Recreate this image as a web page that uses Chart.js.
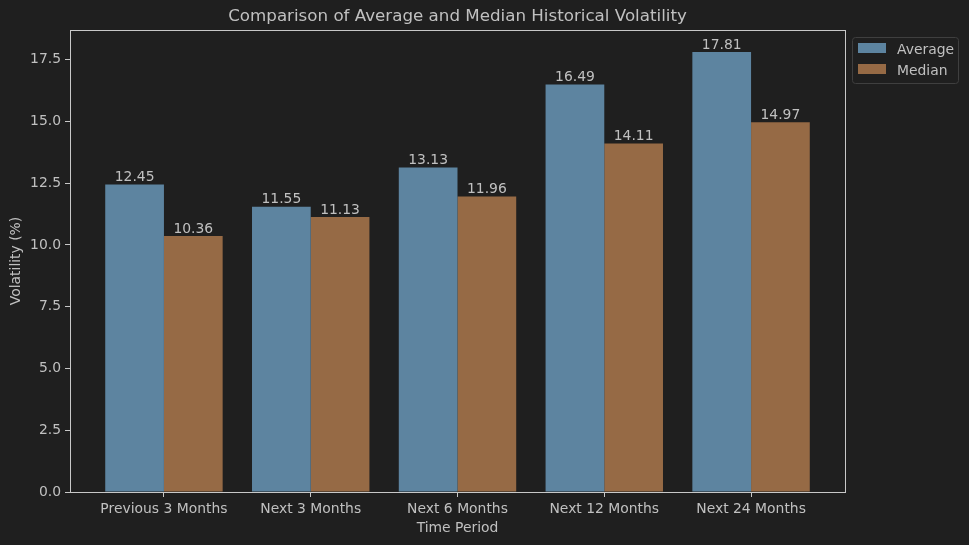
<!DOCTYPE html>
<html>
<head>
<meta charset="utf-8">
<script src="https://cdn.jsdelivr.net/npm/chart.js@4.4.1/dist/chart.umd.min.js"></script>
<style>
body { margin: 0; background: #1f1f1f; }
#wrap { width: 969px; height: 545px; }
</style>
</head>
<body>
<div id="wrap"><canvas id="volChart" width="969" height="545"></canvas></div>
<script>
// values
const periods = ['Previous 3 Months', 'Next 3 Months', 'Next 6 Months', 'Next 12 Months', 'Next 24 Months'];
const averageVol = [12.45, 11.55, 13.13, 16.49, 17.81];
const medianVol = [10.36, 11.13, 11.96, 14.11, 14.97];
const yTicks = [0, 2.5, 5, 7.5, 10, 12.5, 15, 17.5];

const txt = '#c0c0c0';
const spine = '#c8c8c8';
const font = 'DejaVu Sans';

function pts(vals){
	return vals.map((v, i) => ({x: i, y: v}));
}

// title, axis frame, value labels and legend drawn by hand (matplotlib look)
const extras = {
	id: 'extras',
	afterDatasetsDraw(chart){
		let ctx = chart.ctx;
		let a = chart.chartArea;
		ctx.save();
		ctx.strokeStyle = spine;
		ctx.lineWidth = 1;
		ctx.strokeRect(Math.round(a.left) + 0.5, Math.round(a.top) + 0.5, Math.round(a.right - a.left), Math.round(a.bottom - a.top));

		// value labels above bars
		ctx.fillStyle = txt;
		ctx.font = '13.9px "' + font + '"';
		ctx.textAlign = 'center';
		ctx.textBaseline = 'bottom';
		chart.data.datasets.forEach((ds, di) => {
			chart.getDatasetMeta(di).data.forEach((bar, i) => {
				ctx.fillText(ds.data[i].y.toFixed(2), bar.x, bar.y);
			});
		});

		// title
		ctx.font = '16.7px "' + font + '"';
		ctx.textBaseline = 'middle';
		ctx.fillText('Comparison of Average and Median Historical Volatility', (a.left + a.right) / 2, 17);

		// axis titles
		ctx.font = '13.9px "' + font + '"';
		ctx.fillText('Time Period', (a.left + a.right) / 2, 528);
		ctx.save();
		ctx.translate(16, (a.top + a.bottom) / 2);
		ctx.rotate(-Math.PI / 2);
		ctx.fillText('Volatility (%)', 0, 0);
		ctx.restore();

		// legend
		let lx = 852, ly = 37;
		ctx.strokeStyle = '#3f3f3f';
		ctx.beginPath();
		ctx.roundRect(lx + 0.5, ly + 0.5, 106, 46, 3);
		ctx.stroke();
		chart.data.datasets.forEach((ds, di) => {
			let y = ly + 6 + di * 21;
			ctx.fillStyle = ds.backgroundColor;
			ctx.fillRect(lx + 6, y, 28, 10);
			ctx.fillStyle = txt;
			ctx.textAlign = 'left';
			ctx.fillText(ds.label, lx + 45, y + 7);
		});
		ctx.restore();
	}
};

new Chart(document.getElementById('volChart'), {
	type: 'bar',
	data: {
		datasets: [
			{label: 'Average', data: pts(averageVol), backgroundColor: '#5d84a0', borderWidth: 0, categoryPercentage: 0.8, barPercentage: 1},
			{label: 'Median', data: pts(medianVol), backgroundColor: '#966a45', borderWidth: 0, categoryPercentage: 0.8, barPercentage: 1}
		]
	},
	options: {
		responsive: false,
		animation: false,
		devicePixelRatio: 1,
		layout: {padding: {left: 0, right: 124, top: 30, bottom: 0}},
		plugins: {legend: {display: false}, tooltip: {enabled: false}, title: {display: false}},
		scales: {
			x: {
				type: 'linear',
				offset: false,
				min: -0.64,
				max: 4.64,
				grid: {drawOnChartArea: false, offset: false, color: spine, tickLength: 5, tickColor: spine},
				border: {display: false},
				afterBuildTicks: s => { s.ticks = periods.map((p, i) => ({value: i})); },
				afterFit: s => { s.height = 53; },
				ticks: {
					color: txt, font: {family: font, size: 13.9}, padding: 4, maxRotation: 0, autoSkip: false,
					callback: v => periods[v]
				}
			},
			y: {
				min: 0,
				max: 18.70,
				grid: {drawOnChartArea: false, color: spine, tickLength: 5, tickColor: spine},
				border: {display: false},
				afterBuildTicks: s => { s.ticks = yTicks.map(v => ({value: v})); },
				afterFit: s => { s.width = 70; },
				ticks: {
					color: txt, font: {family: font, size: 13.9}, padding: 4,
					callback: v => v.toFixed(1)
				}
			}
		}
	},
	plugins: [extras]
});
</script>
</body>
</html>
